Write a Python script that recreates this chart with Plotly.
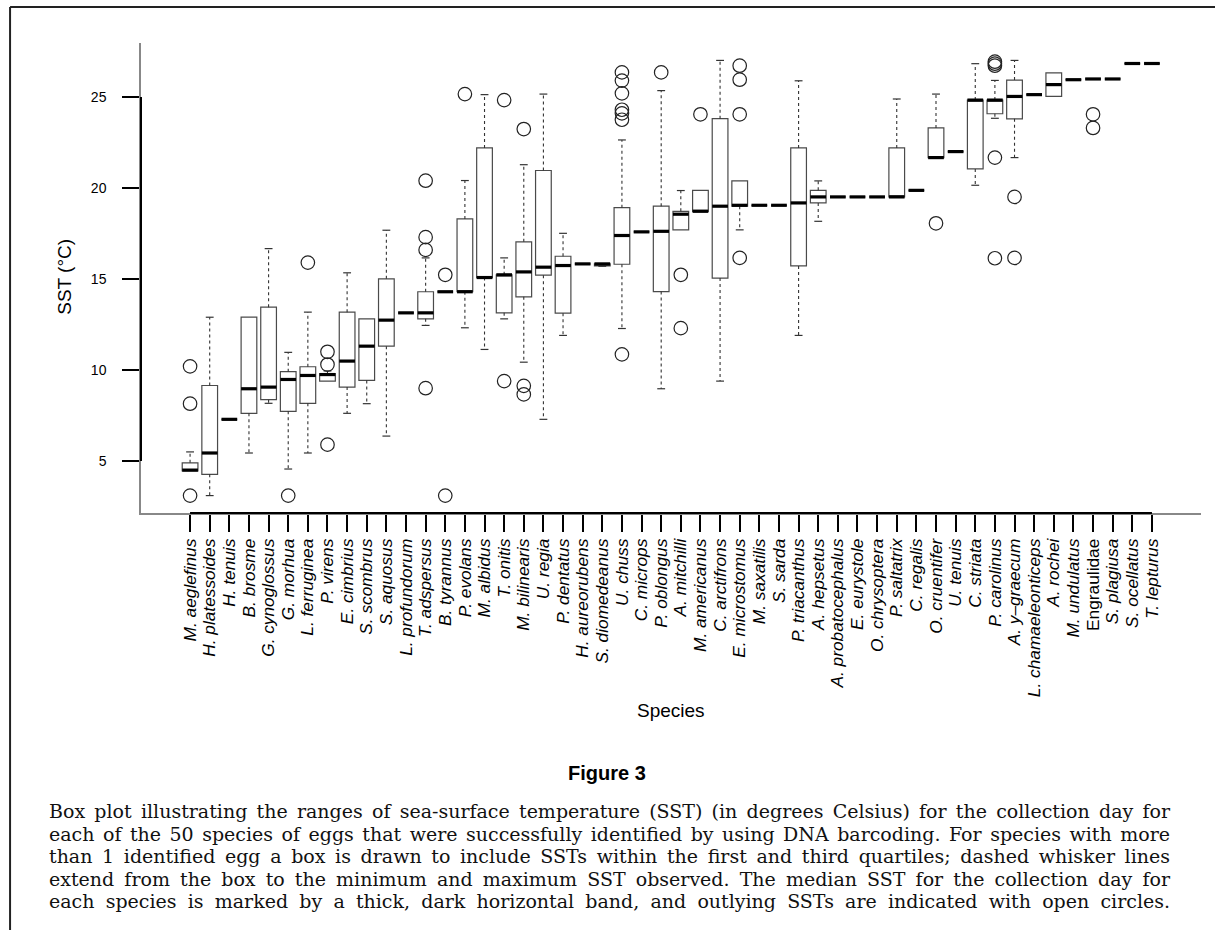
import plotly.graph_objects as go

species = ["M. aeglefinus", "H. platessoides", "H. tenuis", "B. brosme", "G. cynoglossus",
           "G. morhua", "L. ferruginea", "P. virens", "E. cimbrius", "S. scombrus",
           "S. aquosus", "L. profundorum", "T. adspersus", "B. tyrannus", "P. evolans",
           "M. albidus", "T. onitis", "M. bilinearis", "U. regia", "P. dentatus",
           "H. aureorubens", "S. diomedeanus", "U. chuss", "C. microps", "P. oblongus",
           "A. mitchilli", "M. americanus", "C. arctifrons", "E. microstomus", "M. saxatilis",
           "S. sarda", "P. triacanthus", "A. hepsetus", "A. probatocephalus", "E. eurystole",
           "O. chrysoptera", "P. saltatrix", "C. regalis", "O. cruentifer", "U. tenuis",
           "C. striata", "P. carolinus", "A. y\u2013graecum", "L. chamaeleonticeps", "A. rochei",
           "M. undulatus", "Engraulidae", "S. plagiusa", "S. ocellatus", "T. lepturus"]
italic = [s != "Engraulidae" for s in species]

wlo = [4.45, 3.1, 7.29, 5.44, 8.17, 4.56, 5.44, 9.39, 7.62, 8.15,
       6.37, 13.14, 12.45, 14.3, 12.32, 11.13, 12.81, 10.43, 7.29, 11.9,
       15.83, 15.7, 12.28, 17.59, 8.97, 17.7, 18.72, 9.39, 17.7, 19.05,
       19.05, 11.9, 18.17, 19.51, 19.51, 19.51, 19.51, 19.87, 21.67, 22.0,
       20.15, 23.83, 21.67, 25.13, 25.03, 25.95, 25.99, 25.99, 26.84, 26.84]
q1 = [4.45, 4.27, 7.29, 7.62, 8.37, 7.73, 8.17, 9.39, 9.06, 9.43,
      11.31, 13.14, 12.81, 14.3, 14.3, 15.08, 13.14, 14.02, 15.21, 13.12,
      15.83, 15.72, 15.81, 17.59, 14.31, 17.7, 18.72, 15.05, 19.0, 19.05,
      19.05, 15.72, 19.18, 19.51, 19.51, 19.51, 19.51, 19.87, 21.67, 22.0,
      21.05, 24.08, 23.8, 25.13, 25.03, 25.95, 25.99, 25.99, 26.84, 26.84]
med = [4.5, 5.44, 7.29, 8.97, 9.06, 9.48, 9.7, 9.75, 10.49, 11.31,
       12.74, 13.14, 13.14, 14.3, 14.3, 15.08, 15.23, 15.39, 15.65, 15.74,
       15.83, 15.83, 17.39, 17.59, 17.62, 18.56, 18.72, 19.0, 19.05, 19.05,
       19.05, 19.18, 19.51, 19.51, 19.51, 19.51, 19.51, 19.87, 21.67, 22.0,
       24.83, 24.83, 25.03, 25.13, 25.68, 25.95, 25.99, 25.99, 26.84, 26.84]
q3 = [4.9, 9.15, 7.29, 12.9, 13.45, 9.91, 10.18, 9.8, 13.18, 12.81,
      15.01, 13.14, 14.3, 14.3, 18.3, 22.2, 15.23, 17.04, 20.96, 16.25,
      15.83, 15.83, 18.92, 17.59, 19.0, 18.72, 19.87, 23.81, 20.39, 19.05,
      19.05, 22.2, 19.87, 19.51, 19.51, 19.51, 22.2, 19.87, 23.3, 22.0,
      24.83, 24.83, 25.93, 25.13, 26.32, 25.95, 25.99, 25.99, 26.84, 26.84]
whi = [5.5, 12.9, 7.29, 12.9, 16.67, 10.97, 13.18, 9.95, 15.34, 12.81,
       17.68, 13.14, 16.16, 14.3, 20.41, 25.13, 16.16, 21.28, 25.16, 17.51,
       15.83, 15.83, 22.64, 17.59, 25.35, 19.86, 19.87, 27.01, 20.39, 19.05,
       19.05, 25.89, 20.39, 19.51, 19.51, 19.51, 24.89, 19.87, 25.16, 22.0,
       26.83, 25.91, 27.01, 25.13, 26.32, 25.95, 25.99, 25.99, 26.84, 26.84]
outliers = [[10.2, 8.15, 3.1], [], [], [], [], [3.1], [15.9], [11.0, 10.3, 5.9], [], [],
            [], [], [20.4, 17.3, 16.6, 9.0], [15.23, 3.1], [25.16], [], [24.83, 9.39],
            [23.24, 9.13, 8.66], [], [],
            [], [], [26.35, 25.9, 25.2, 24.3, 24.1, 23.75, 10.86], [], [26.35],
            [15.23, 12.3], [24.05], [], [26.72, 25.95, 24.05, 16.16], [],
            [], [], [], [], [],
            [], [], [], [18.06], [],
            [], [26.94, 26.83, 26.72, 21.67, 16.14], [19.51, 16.16], [], [],
            [], [24.05, 23.3], [], [], []]

ytick_vals = [5, 10, 15, 20, 25]
y_title = "SST (\u00b0C)"
x_title = "Species"
fig_title = "Figure 3"
caption_lines = [
    "Box plot illustrating the ranges of sea-surface temperature (SST) (in degrees Celsius) for the collection day for",
    "each of the 50 species of eggs that were successfully identified by using DNA barcoding. For species with more",
    "than 1 identified egg a box is drawn to include SSTs within the first and third quartiles; dashed whisker lines",
    "extend from the box to the minimum and maximum SST observed. The median SST for the collection day for",
    "each species is marked by a thick, dark horizontal band, and outlying SSTs are indicated with open circles.",
]

n = len(species)
xs = list(range(1, n + 1))
BOXW = 0.8

# ---- layout geometry (pixels) ----
W, H = 1215, 930
L, R, T, B = 141, 1201.5, 43, 513.5
pw, ph = R - L, B - T
def px(x):  # pixel x -> paper
    return (x - L) / pw
def py(y):  # pixel y -> paper
    return (B - y) / ph

# y range like R (4% extension of data range)
all_vals = wlo + whi + [v for o in outliers for v in o]
dmin, dmax = min(all_vals), max(all_vals)
ext = 0.04 * (dmax - dmin)
yrange = [dmin - ext, dmax + ext]
xrange_ = [0.5 - 0.04 * n, n + 0.5 + 0.04 * n]

fig = go.Figure()

# boxes (no built-in whiskers: fences set at the quartiles)
fig.add_trace(go.Box(
    x=xs, q1=q1, median=med, q3=q3, lowerfence=q1, upperfence=q3,
    width=BOXW, fillcolor="white", line=dict(color="#4a4a4a", width=1.2),
    boxpoints=False, hoverinfo="skip", showlegend=False,
))

# dashed whiskers + solid staples
wx, wy = [], []
sx, sy = [], []
for i in range(n):
    x = xs[i]
    if whi[i] > q3[i]:
        wx += [x, x, None]; wy += [q3[i], whi[i], None]
        sx += [x - BOXW / 4, x + BOXW / 4, None]; sy += [whi[i], whi[i], None]
    if wlo[i] < q1[i]:
        wx += [x, x, None]; wy += [q1[i], wlo[i], None]
        sx += [x - BOXW / 4, x + BOXW / 4, None]; sy += [wlo[i], wlo[i], None]
fig.add_trace(go.Scatter(x=wx, y=wy, mode="lines",
                         line=dict(color="#333333", width=1.1, dash="3px,3px"),
                         hoverinfo="skip", showlegend=False))
fig.add_trace(go.Scatter(x=sx, y=sy, mode="lines",
                         line=dict(color="#333333", width=1.2),
                         hoverinfo="skip", showlegend=False))

# thick medians
mx, my = [], []
for i in range(n):
    mx += [xs[i] - BOXW / 2, xs[i] + BOXW / 2, None]
    my += [med[i], med[i], None]
fig.add_trace(go.Scatter(x=mx, y=my, mode="lines",
                         line=dict(color="black", width=3.2),
                         hoverinfo="skip", showlegend=False))

# outliers
ox, oy = [], []
for i in range(n):
    for v in outliers[i]:
        ox.append(xs[i]); oy.append(v)
fig.add_trace(go.Scatter(x=ox, y=oy, mode="markers",
                         marker=dict(symbol="circle-open", size=13.5, color="#222222",
                                     line=dict(width=1.2)),
                         hoverinfo="skip", showlegend=False))

ticktext = [("<i>%s</i>" % s) if it else s for s, it in zip(species, italic)]

fig.update_layout(
    width=W, height=H,
    margin=dict(l=L, r=W - R, t=T, b=H - B),
    paper_bgcolor="white", plot_bgcolor="white",
    font=dict(family="Liberation Sans, Arial, sans-serif", color="black"),
    xaxis=dict(range=xrange_, tickmode="array", tickvals=xs, ticktext=ticktext,
               tickangle=-90, ticks="outside", ticklen=17, tickwidth=1.8,
               tickcolor="black", showline=True, linecolor="#888888", linewidth=1.5,
               showgrid=False, zeroline=False, tickfont=dict(size=17.3)),
    yaxis=dict(range=yrange, tickmode="array", tickvals=ytick_vals,
               ticks="outside", ticklen=17, tickwidth=1.8, tickcolor="black",
               showline=True, linecolor="#888888", linewidth=1.5,
               showgrid=False, zeroline=False, tickfont=dict(size=14),
               ticklabelstandoff=13),
)

# black axis segments spanning first..last tick (like R's axis())
fig.add_shape(type="line", xref="x", yref="paper", x0=xs[0], x1=xs[-1], y0=0, y1=0,
              line=dict(color="black", width=2))
fig.add_shape(type="line", xref="paper", yref="y", x0=0, x1=0,
              y0=ytick_vals[0], y1=ytick_vals[-1], line=dict(color="black", width=2))

# figure frame (top and left)
fig.add_shape(type="line", xref="paper", yref="paper", x0=px(10), x1=px(W + 5),
              y0=py(7), y1=py(7), line=dict(color="#222222", width=2))
fig.add_shape(type="line", xref="paper", yref="paper", x0=px(10), x1=px(10),
              y0=py(7), y1=py(H + 5), line=dict(color="#222222", width=2))

# axis titles
fig.add_annotation(text=y_title, xref="paper", yref="paper", x=px(65), y=py(277),
                   textangle=-90, showarrow=False, font=dict(size=19),
                   xanchor="center", yanchor="middle")
fig.add_annotation(text=x_title, xref="paper", yref="paper", x=px(671), y=py(711),
                   showarrow=False, font=dict(size=19), xanchor="center", yanchor="middle")

# figure caption
fig.add_annotation(text="<b>%s</b>" % fig_title, xref="paper", yref="paper",
                   x=px(607), y=py(774), showarrow=False,
                   font=dict(size=20, family="Liberation Sans Narrow, Liberation Sans, sans-serif"),
                   xanchor="center", yanchor="middle")
for k, line in enumerate(caption_lines):
    fig.add_annotation(text=line, xref="paper", yref="paper", x=px(47), y=py(812 + 22.6 * k),
                       showarrow=False, xanchor="left", yanchor="middle", align="left",
                       font=dict(size=19, family="DejaVu Serif, serif", color="#111111"))

# remove page margin and justify the caption lines (word spacing) to the text block width
post = """
document.body.style.margin = '0';
var gd = document.getElementById('{plot_id}');
var target = 1121;
gd.querySelectorAll('.annotation-text').forEach(function (t) {
  var s = t.textContent || '';
  if (s.length > 80) {
    var len = t.getComputedTextLength();
    var nsp = (s.match(/ /g) || []).length;
    if (nsp > 0 && len < target) { t.style.wordSpacing = ((target - len) / nsp) + 'px'; }
  }
});
"""
fig.write_html("out.html", post_script=post, config={"displayModeBar": False})
